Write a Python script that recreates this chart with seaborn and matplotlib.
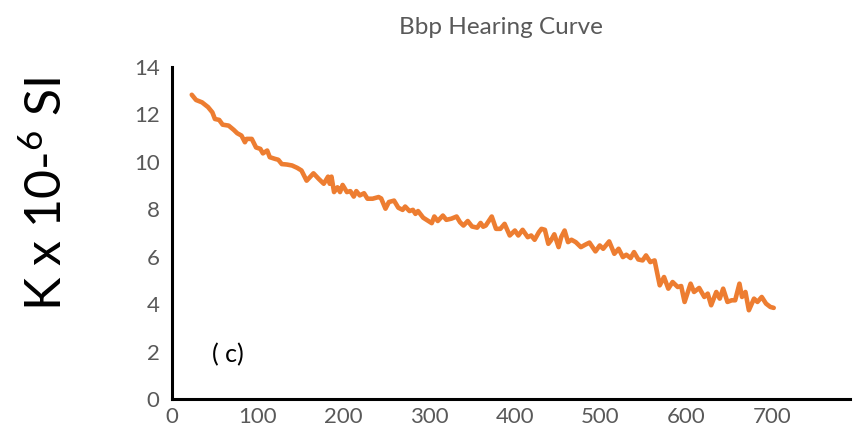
import matplotlib
matplotlib.use("Agg")
import matplotlib.pyplot as plt
import seaborn as sns
import pandas as pd

depth = [23, 28, 35, 42, 47, 50, 55, 59, 66, 72, 76, 81, 85, 87, 93, 98, 103, 106, 111, 114,
         120, 124, 128, 134, 140, 146, 151, 157, 165, 171, 177, 182, 184, 186, 189, 193, 196, 199,
         204, 208, 212, 215, 219, 224, 228, 234, 241, 244, 249, 253, 259, 264, 269, 272, 277, 281,
         284, 287, 293, 299, 303, 306, 310, 316, 320, 326, 332, 336, 340, 345, 350, 356, 360, 363,
         366, 373, 378, 383, 388, 394, 400, 404, 409, 415, 419, 423, 428, 431, 435, 439, 442, 446,
         451, 454, 458, 462, 466, 471, 477, 482, 487, 494, 499, 503, 510, 516, 521, 526, 530, 535,
         539, 544, 549, 553, 558, 563, 569, 574, 579, 584, 590, 594, 598, 605, 609, 615, 621, 625,
         629, 635, 639, 643, 648, 653, 657, 662, 665, 669, 673, 679, 683, 688, 693, 698, 702]
kappa = [12.82, 12.6, 12.5, 12.3, 12.08, 11.8, 11.76, 11.56, 11.52, 11.34, 11.2, 11.1, 10.82,
         10.96, 10.96, 10.6, 10.54, 10.35, 10.47, 10.19, 10.12, 10.08, 9.9, 9.88, 9.84, 9.74, 9.63,
         9.2, 9.51, 9.28, 9.07, 9.37, 9.07, 9.37, 8.72, 8.92, 8.72, 9.02, 8.72, 8.76, 8.53, 8.76,
         8.58, 8.67, 8.44, 8.44, 8.51, 8.45, 8.02, 8.3, 8.36, 8.06, 7.97, 8.11, 7.92, 7.97, 7.8,
         7.92, 7.64, 7.5, 7.41, 7.69, 7.5, 7.73, 7.55, 7.6, 7.69, 7.45, 7.31, 7.5, 7.27, 7.22, 7.42,
         7.26, 7.31, 7.69, 7.17, 7.17, 7.38, 6.89, 7.1, 6.89, 7.13, 6.82, 6.89, 6.71, 7.03, 7.17,
         7.13, 6.54, 6.68, 6.94, 6.4, 6.82, 7.1, 6.61, 6.71, 6.61, 6.4, 6.5, 6.59, 6.22, 6.47, 6.33,
         6.64, 6.12, 6.33, 5.98, 6.08, 5.94, 6.19, 5.88, 5.84, 6.05, 5.77, 5.84, 4.79, 5.14, 4.65,
         4.93, 4.72, 4.76, 4.09, 4.86, 4.51, 4.68, 4.3, 4.44, 3.95, 4.51, 4.23, 4.65, 4.09, 4.16,
         4.16, 4.86, 4.3, 4.51, 3.74, 4.23, 4.09, 4.3, 4.02, 3.88, 3.84]

x_ticks = [0, 100, 200, 300, 400, 500, 600, 700]
y_ticks = [0, 2, 4, 6, 8, 10, 12, 14]

df = pd.DataFrame({"depth": depth, "kappa": kappa})

sns.set_style("white")
plt.rcParams["font.family"] = ["Lato", "DejaVu Sans"]
plt.rcParams["mathtext.fontset"] = "custom"
plt.rcParams["mathtext.rm"] = "Lato:style=normal:weight=normal"
plt.rcParams["mathtext.it"] = "Lato:style=normal:weight=normal"
plt.rcParams["mathtext.default"] = "rm"

fig = plt.figure(figsize=(8.56, 4.43), dpi=100)
ax = fig.add_axes([0.201, 0.0993, 0.792, 0.750])

sns.lineplot(data=df, x="depth", y="kappa", ax=ax, color="#ED7D31", linewidth=3.3,
             sort=False, estimator=None)

ax.set_xlim(0, 791)
ax.set_ylim(0, 14)
ax.set_xticks(x_ticks)
ax.set_yticks(y_ticks)
ax.tick_params(axis="both", length=0, labelsize=16, labelcolor="#595959")
ax.tick_params(axis="y", pad=9)
ax.tick_params(axis="x", pad=6)
ax.set_xlabel("")
ax.set_ylabel("")

for side in ["top", "right"]:
    ax.spines[side].set_visible(False)
for side in ["left", "bottom"]:
    ax.spines[side].set_color("black")
    ax.spines[side].set_linewidth(2.2)

fig.text(47 / 856, 1 - 194 / 443, r"K x 10-$^{6}$ SI", fontsize=36, color="black",
         rotation=90, ha="center", va="center")
fig.text(501 / 856, 1 - 27 / 443, "Bbp Hearing Curve", fontsize=17.5, color="#595959",
         ha="center", va="center")

ax.text(47, 1.55, "( c)", fontsize=18, color="black", va="baseline")

fig.savefig("out.png", dpi=100)
